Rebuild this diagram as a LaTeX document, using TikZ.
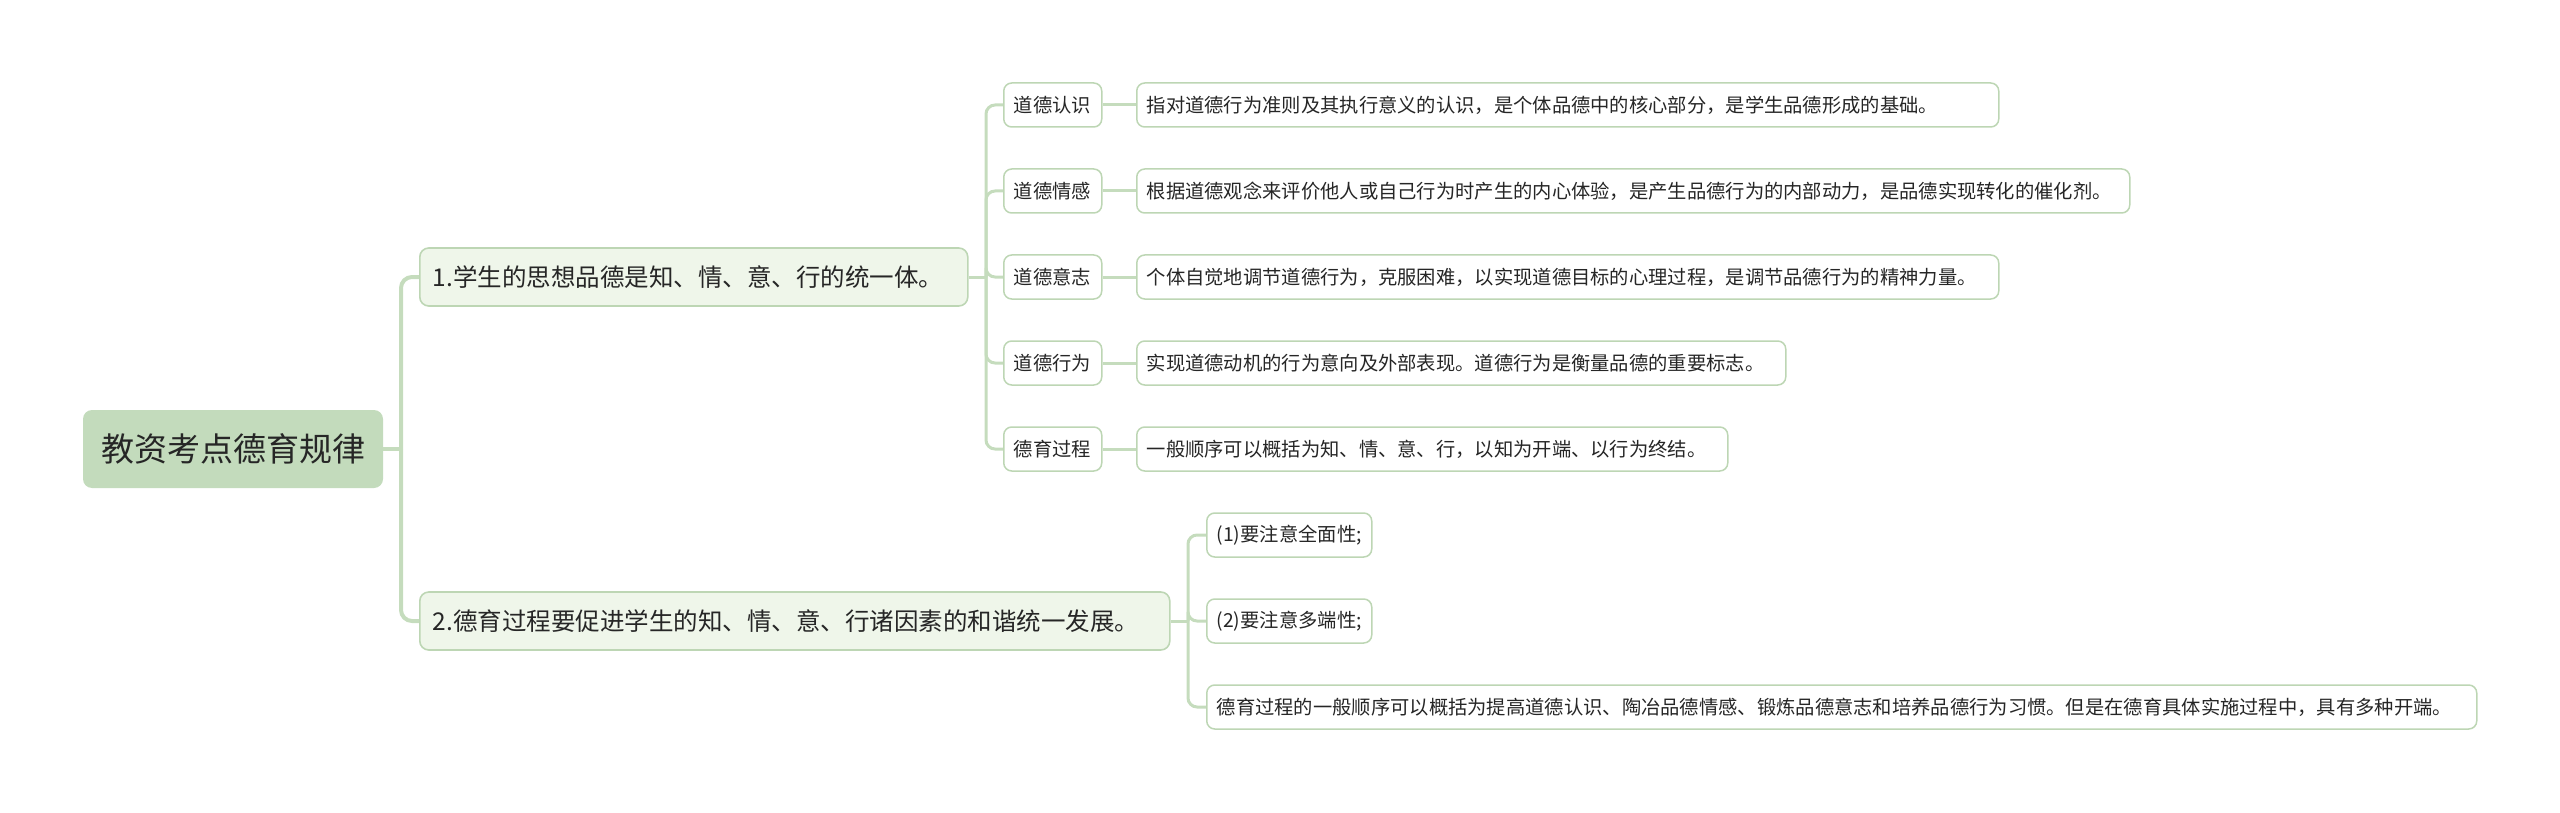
\documentclass[tikz,border=0pt]{standalone}
\usepackage{fontspec}
\setmainfont{Noto Sans CJK SC}
\definecolor{rootfill}{HTML}{C3DBBC}
\definecolor{brfill}{HTML}{EFF6EA}
\definecolor{bord}{HTML}{BDD6B4}
\definecolor{linec}{HTML}{C5DCBD}
\definecolor{txt}{HTML}{262626}
\tikzset{
  rootbox/.style={fill=rootfill, draw=none, rounded corners=9pt, minimum width=300pt,
    minimum height=78pt, inner sep=0pt, text=txt, font=\fontsize{33}{40}\selectfont},
  branchbox/.style={fill=brfill, draw=bord, line width=1.6pt, rounded corners=9pt,
    minimum height=58pt, inner xsep=13pt, inner ysep=0pt, anchor=west, align=left,
    text=txt, text width=#1, font=\fontsize{24.5}{30}\selectfont},
  leafbox/.style={fill=white, draw=bord, line width=1.5pt, rounded corners=8pt,
    minimum height=44pt, inner xsep=10pt, inner ysep=0pt, anchor=west, align=left,
    text=txt, text width=#1, font=\fontsize{19.3}{23}\selectfont},
  trunk/.style={draw=linec, line width=4pt, rounded corners=11pt},
  twig/.style={draw=linec, line width=3pt, rounded corners=9pt}
}
\begin{document}
\begin{tikzpicture}[x=1pt,y=-1pt]
\useasboundingbox (0,0) rectangle (2560,813);
% root
\node[rootbox] (root) at (233,449) {教资考点德育规律};
% branches
\node[branchbox=522pt] (b1) at (419,277) {1.学生的思想品德是知、情、意、行的统一体。};
\node[branchbox=724pt] (b2) at (419,621) {2.德育过程要促进学生的知、情、意、行诸因素的和谐统一发展。};
% children of branch 1
\node[leafbox=78pt] (c1) at (1003,105) {道德认识};
\node[leafbox=78pt] (c2) at (1003,191) {道德情感};
\node[leafbox=78pt] (c3) at (1003,277) {道德意志};
\node[leafbox=78pt] (c4) at (1003,363) {道德行为};
\node[leafbox=78pt] (c5) at (1003,449) {德育过程};
% leaves
\node[leafbox=842pt] (l1) at (1136,105) {指对道德行为准则及其执行意义的认识，是个体品德中的核心部分，是学生品德形成的基础。};
\node[leafbox=973pt] (l2) at (1136,191) {根据道德观念来评价他人或自己行为时产生的内心体验，是产生品德行为的内部动力，是品德实现转化的催化剂。};
\node[leafbox=842pt] (l3) at (1136,277) {个体自觉地调节道德行为，克服困难，以实现道德目标的心理过程，是调节品德行为的精神力量。};
\node[leafbox=629pt] (l4) at (1136,363) {实现道德动机的行为意向及外部表现。道德行为是衡量品德的重要标志。};
\node[leafbox=571pt] (l5) at (1136,449) {一般顺序可以概括为知、情、意、行，以知为开端、以行为终结。};
% children of branch 2
\node[leafbox=145pt] (d1) at (1206,535) {(1)要注意全面性;};
\node[leafbox=145pt] (d2) at (1206,621) {(2)要注意多端性;};
\node[leafbox=1250pt] (d3) at (1206,707) {德育过程的一般顺序可以概括为提高道德认识、陶冶品德情感、锻炼品德意志和培养品德行为习惯。但是在德育具体实施过程中，具有多种开端。};
% junctions
\coordinate (j0) at (401,449);
\coordinate (j1) at (986,277);
\coordinate (j2) at (1188,621);
% connectors
\draw[trunk] (root.east) -- (j0);
\draw[trunk] (j0) |- (b1.west);
\draw[trunk] (j0) |- (b2.west);
\draw[twig] (b1.east) -- (j1);
\foreach \c in {c1,c2,c3,c4,c5} { \draw[twig] (j1) |- (\c.west); }
\draw[twig] (c1.east) -- (l1.west);
\draw[twig] (c2.east) -- (l2.west);
\draw[twig] (c3.east) -- (l3.west);
\draw[twig] (c4.east) -- (l4.west);
\draw[twig] (c5.east) -- (l5.west);
\draw[twig] (b2.east) -- (j2);
\foreach \d in {d1,d2,d3} { \draw[twig] (j2) |- (\d.west); }
\end{tikzpicture}
\end{document}
